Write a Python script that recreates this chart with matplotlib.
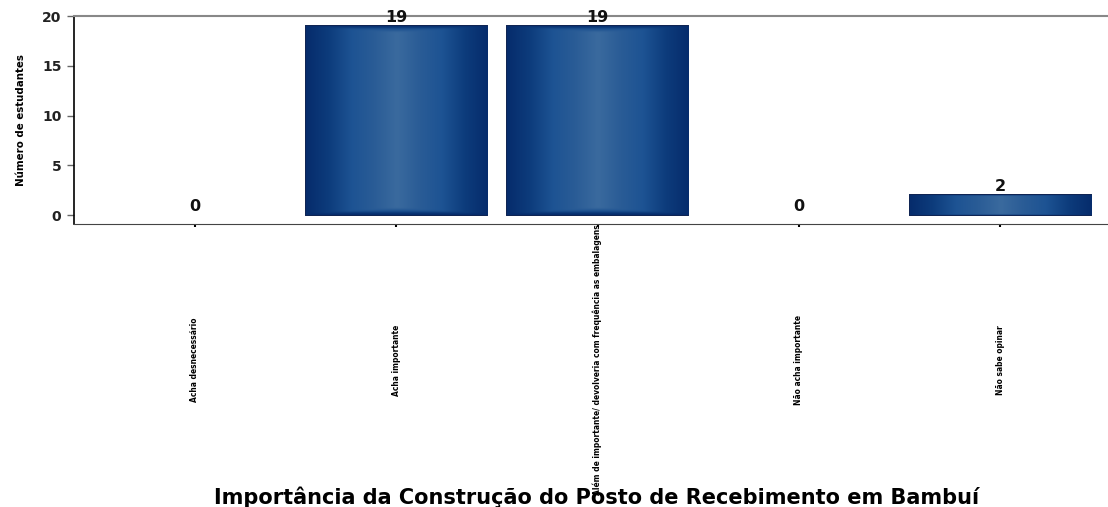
import numpy as np
import matplotlib
matplotlib.use("Agg")
import matplotlib.pyplot as plt
from matplotlib.colors import LinearSegmentedColormap
from matplotlib import font_manager

categories = [
    "Acha desnecessário",
    "Acha importante",
    "Além de importante/ devolveria com frequência as embalagens",
    "Não acha importante",
    "Não sabe opinar",
]
counts = [0, 19, 19, 0, 2]
yticks = [0, 5, 10, 15, 20]

# narrow face for the rotated labels, if one is installed
names = {f.name for f in font_manager.fontManager.ttflist}
cond = [f for f in font_manager.fontManager.ttflist if f.name == "DejaVu Sans" and f.stretch == "condensed"]
if "Liberation Sans Narrow" in names:
    NARROW = dict(family="Liberation Sans Narrow")
elif cond:
    NARROW = dict(family="DejaVu Sans", fontstretch="condensed")
else:
    NARROW = dict(family="Liberation Sans")

fig = plt.figure(figsize=(11.08, 5.07), dpi=100)
# axes runs a little past the right edge, like the reference
ax = fig.add_axes([74 / 1108, 1 - 224 / 507, (1121 - 74) / 1108, (224 - 16) / 507])

x = np.arange(len(categories))
bars = ax.bar(x, counts, width=0.9, color="#1f4f8a", edgecolor="#0a1f4f", linewidth=1.4, zorder=2)

# shaded fill: darker at the bar sides, lighter towards the middle
cmap = LinearSegmentedColormap.from_list("shade", ["#3a6a9e", "#2a5c96", "#1d5393", "#0d3c7c", "#062c6c"])
u = np.linspace(-1, 1, 200)
for b in bars:
    if b.get_height() <= 0:
        b.set_linewidth(0)
        continue
    x0, y0 = b.get_x(), b.get_y()
    # distance from the centre, mostly sideways, with a thin dark rim top and bottom
    v = np.linspace(-1, 1, 120)[:, None]
    shade = np.maximum(np.abs(u)[None, :], np.clip((np.abs(v) - 0.93) / 0.07, 0, 1))
    im = ax.imshow(shade, cmap=cmap, vmin=0, vmax=1, aspect="auto",
                   extent=(x0, x0 + b.get_width(), y0, y0 + b.get_height()),
                   zorder=2.5, interpolation="bicubic")
    im.set_clip_path(b)

for xi, v in zip(x, counts):
    ax.text(xi, v + 0.1, str(v), ha="center", va="bottom", fontsize=11.5, fontweight="bold",
            color="#111111", zorder=4)

ax.set_xlim(-0.6, 4.6)
ax.set_ylim(-0.9, 20)
ax.set_yticks(yticks)
ax.set_yticklabels([str(t) for t in yticks], fontsize=10, fontweight="bold", color="#222222")
ax.set_xticks(x)
ax.set_xticklabels(categories, rotation=90, va="center", ha="center", fontsize=6.0,
                   fontweight="bold", **NARROW)
ax.tick_params(axis="x", length=2, width=1.5, pad=96, colors="black")
ax.tick_params(axis="y", length=5, width=1, colors="#666666", pad=4)
for lbl in ax.get_yticklabels():
    lbl.set_color("#222222")

ax.spines["left"].set_color("black")
ax.spines["left"].set_linewidth(1.2)
ax.spines["bottom"].set_color("#444444")
ax.spines["top"].set_color("#888888")
ax.spines["top"].set_linewidth(1.5)
ax.spines["right"].set_visible(False)

ax.set_ylabel("Número de estudantes", fontsize=8.2, fontweight="bold", **NARROW)
ax.yaxis.set_label_coords(-48 / 1047, 0.5)

fig.text(597 / 1108, 1 - 497 / 507, "Importância da Construção do Posto de Recebimento em Bambuí",
         ha="center", va="center", fontsize=15, fontweight="bold", family="DejaVu Sans")

fig.savefig("out.png", dpi=100)
